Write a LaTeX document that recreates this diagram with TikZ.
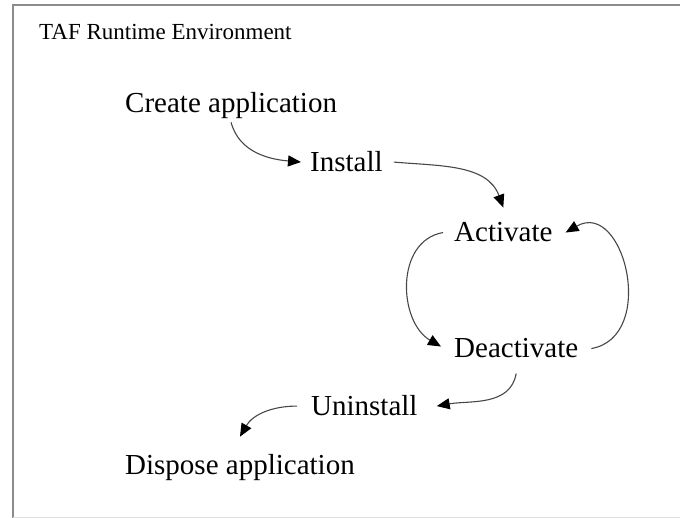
\documentclass[tikz,border=0pt]{standalone}
\usepackage{fontspec}
\setmainfont{Liberation Serif}
\usetikzlibrary{arrows.meta}

\tikzset{
    step label/.style = {anchor = base west, inner sep = 3pt, font = \fontsize{29}{34}\selectfont},
    flow/.style = {-{Triangle[length = 13pt, width = 11pt, black]}, line width = 1.1pt, draw = black!72},
}

\begin{document}
\begin{tikzpicture}[x = 1pt, y = -1pt]%
    \useasboundingbox (0, 0) rectangle (680, 518);
    \draw[line width = 2pt, black!45] (680, 5) -- (13, 5) -- (13, 518);
    \draw[line width = 1pt, black!12] (13, 517) -- (680, 517);

    \node[step label, font = \fontsize{23}{28}\selectfont] (env) at (36, 40) {TAF Runtime Environment};
    \node[step label] (create) at (122, 113) {Create application};
    \node[step label] (install) at (307, 172) {Install};
    \node[step label] (activate) at (451, 242) {Activate};
    \node[step label] (deactivate) at (451, 358) {Deactivate};
    \node[step label] (uninstall) at (308, 416) {Uninstall};
    \node[step label] (dispose) at (122, 474) {Dispose application};

    \draw[flow] (create.south) to[out = -75, in = 175] ([xshift = -6pt]install.west);
    \draw[flow] ([xshift = 8pt]install.east) to[out = -5, in = 110] ([yshift = 12pt]activate.north);
    \draw[flow] ([xshift = -8pt]activate.west) to[out = 190, in = 150, looseness = 1.1] ([xshift = -10pt, yshift = 2pt]deactivate.west);
    \draw[flow] ([xshift = 10pt]deactivate.east) to[out = 10, in = 30, looseness = 1.45] ([xshift = 10pt]activate.east);
    \draw[flow] ([yshift = -12pt]deactivate.south) to[out = -100, in = 10] ([xshift = 16pt]uninstall.east);
    \draw[flow] ([xshift = -11pt]uninstall.west) to[out = 180, in = 60] ([yshift = 14pt]dispose.north);
\end{tikzpicture}
\end{document}
